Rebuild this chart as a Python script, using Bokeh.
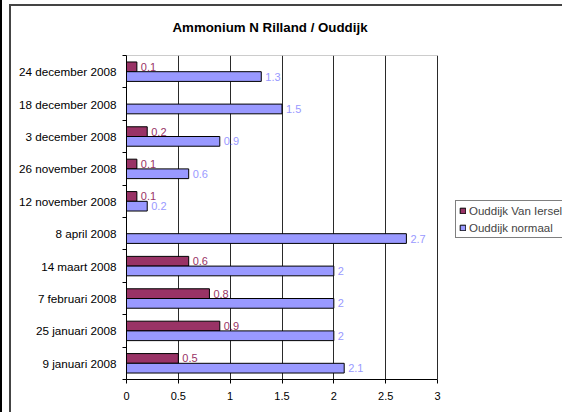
from bokeh.plotting import figure
from bokeh.models import ColumnDataSource, FixedTicker, Legend, LegendItem, Title, LabelSet
from bokeh.core.properties import value
from bokeh.embed import file_html
from bokeh.resources import INLINE

# ---- data ----
dates = ["9 januari 2008", "25 januari 2008", "7 februari 2008", "14 maart 2008",
         "8 april 2008", "12 november 2008", "26 november 2008", "3 december 2008",
         "18 december 2008", "24 december 2008"]
van_iersel = [0.5, 0.9, 0.8, 0.6, None, 0.1, 0.1, 0.2, None, 0.1]
normaal = [2.1, 2, 2, 2, 2.7, 0.2, 0.6, 0.9, 1.5, 1.3]
x_ticks = [0, 0.5, 1, 1.5, 2, 2.5, 3]
series_names = ["Ouddijk Van Iersel", "Ouddijk normaal"]
title_text = "Ammonium N Rilland / Ouddijk"

FONT = "Liberation Sans"
MAROON = "#993366"
BLUE = "#9999FF"

# plot-area geometry (pixels): value axis 0..3 spans 311 px; frame runs on to the
# right edge so the legend can sit inside it
AXIS_PX = 311
FRAME_PX = 436
x_min, x_max = x_ticks[0], x_ticks[-1]
x_view_end = x_min + (x_max - x_min) * FRAME_PX / AXIS_PX


def make_source(values, shift):
    ys, xs, txt = [], [], []
    for i, v in enumerate(values):
        if v is None:
            continue
        ys.append(i + 0.5 + shift)
        xs.append(v)
        txt.append(f"{v:g}")
    return ColumnDataSource(dict(y=ys, x=xs, t=txt))


src_vi = make_source(van_iersel, 0.15)
src_no = make_source(normaal, -0.15)

p = figure(width=562, height=412, x_range=(x_min, x_view_end), y_range=(0, len(dates)),
           output_backend="svg", toolbar_location=None,
           min_border_left=126, min_border_right=0,
           min_border_top=55, min_border_bottom=33)
# chart-area border (top/left) and the page edge line, drawn behind a transparent border
p.styles = {"box-shadow": ("inset 2px 0 0 0 black, inset 0 4px 0 0 white, "
                           "inset 9px 0 0 0 white, inset 11px 0 0 0 #444, "
                           "inset 0 6px 0 0 #444"),
            "background-color": "white"}
p.background_fill_color = "white"
p.border_fill_color = None
p.outline_line_color = None

# top edge of the plot area (between 0 and 3 only)
p.segment(x0=[x_min], x1=[x_max], y0=[len(dates)], y1=[len(dates)],
          line_color="#9a9a9a", line_width=1)

r1 = p.hbar(y="y", right="x", left=0, height=0.3, source=src_vi,
            fill_color=MAROON, line_color="black", line_width=1)
r2 = p.hbar(y="y", right="x", left=0, height=0.3, source=src_no,
            fill_color=BLUE, line_color="black", line_width=1)

for src, col in ((src_vi, MAROON), (src_no, BLUE)):
    p.add_layout(LabelSet(x="x", y="y", text="t", source=src, x_offset=4,
                          text_baseline="middle", text_align="left",
                          text_color=col, text_font=value(FONT),
                          text_font_size=value("11px")))

# x axis
p.xaxis.ticker = FixedTicker(ticks=x_ticks)
p.xaxis.bounds = (x_min, x_max)
p.xaxis.major_label_overrides = {t: f"{t:g}" for t in x_ticks}
p.xaxis.major_tick_out = 4
p.xaxis.major_tick_in = 0
p.xaxis.minor_tick_line_color = None
p.xaxis.major_label_standoff = 8
p.xaxis.axis_line_color = "black"
p.xaxis.major_tick_line_color = "black"
p.xaxis.major_label_text_font = FONT
p.xaxis.major_label_text_font_size = "11px"
p.xaxis.major_label_text_color = "black"

# y axis: labels at category centres, tick marks at boundaries
centers = [i + 0.5 for i in range(len(dates))]
bounds = list(range(len(dates) + 1))
p.yaxis.ticker = FixedTicker(ticks=centers, minor_ticks=bounds)
p.yaxis.major_label_overrides = {c: d for c, d in zip(centers, dates)}
p.yaxis.major_tick_line_color = None
p.yaxis.major_tick_out = 0
p.yaxis.minor_tick_out = 4
p.yaxis.minor_tick_in = 0
p.yaxis.minor_tick_line_color = "black"
p.yaxis.axis_line_color = "black"
p.yaxis.major_label_standoff = 6
p.yaxis.major_label_text_font = FONT
p.yaxis.major_label_text_font_size = "11.7px"
p.yaxis.major_label_text_color = "black"

p.ygrid.grid_line_color = None
p.xgrid.grid_line_color = "#2a2a2a"
p.xgrid.grid_line_width = 1

title = Title(text=title_text, align="left", offset=46, text_font=FONT,
              text_font_size="13.3px", text_font_style="bold", text_color="black",
              vertical_align="top", standoff=37)
p.add_layout(title, "above")

legend = Legend(items=[LegendItem(label=series_names[0], renderers=[r1]),
                       LegendItem(label=series_names[1], renderers=[r2])],
                location=(329, 141), orientation="vertical",
                label_text_font=FONT, label_text_font_size="11.5px",
                glyph_width=7, glyph_height=7, label_height=13, label_standoff=3,
                spacing=4, padding=3, margin=0,
                border_line_color="black", border_line_width=1,
                background_fill_color="white", background_fill_alpha=1)
p.add_layout(legend, "center")

open("out.html", "w").write(file_html(p, INLINE))
